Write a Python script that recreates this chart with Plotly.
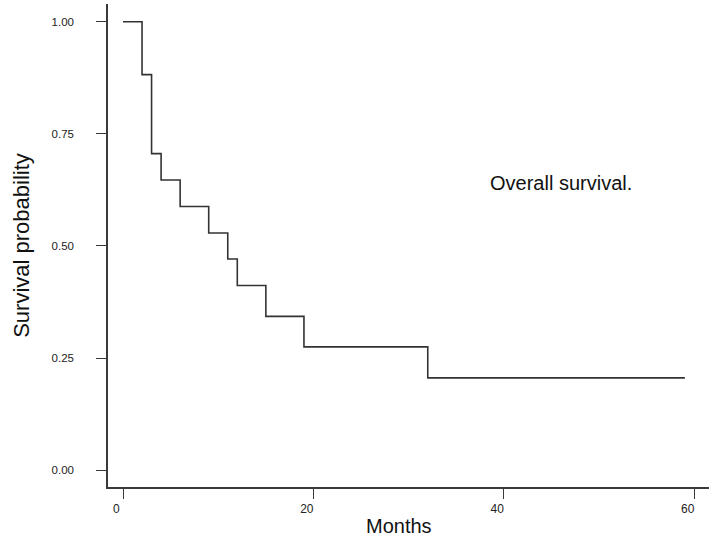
import plotly.graph_objects as go

# Kaplan-Meier estimate
months = [0, 2, 3, 4, 6, 9, 11, 12, 15, 19, 32, 59]
survival = [1.0, 0.882, 0.706, 0.647, 0.588, 0.529, 0.471, 0.412, 0.343, 0.275, 0.206, 0.206]

x_ticks = [0, 20, 40, 60]
x_tick_labels = ["0", "20", "40", "60"]
y_ticks = [0.0, 0.25, 0.5, 0.75, 1.0]
y_tick_labels = ["0.00", "0.25", "0.50", "0.75", "1.00"]

x_title = "Months"
y_title = "Survival probability"
note_text = "Overall survival."
note_x = 38.3
note_y = 0.64

FONT = "Liberation Sans, Arial, sans-serif"
AXIS_COLOR = "#3a3a3a"
NB = "\u00a0"

fig = go.Figure()
fig.add_trace(go.Scatter(
    x=months, y=survival, mode="lines", line_shape="hv",
    line=dict(color="#333333", width=1.6), showlegend=False, hoverinfo="skip",
))

fig.add_annotation(
    x=note_x, y=note_y, text=note_text, showarrow=False,
    xanchor="left", yanchor="middle",
    font=dict(family=FONT, size=20, color="#111111"),
)

# x-axis title (placed slightly left of centre as in the reference)
fig.add_annotation(
    x=28.95, xref="x", y=-0.081, yref="paper", text=x_title, showarrow=False,
    xanchor="center", yanchor="middle",
    font=dict(family=FONT, size=20, color="#111111"),
)

fig.update_layout(
    width=720, height=540,
    margin=dict(l=108, r=11, t=4, b=53),
    paper_bgcolor="white", plot_bgcolor="white",
    font=dict(family=FONT, color="#222222"),
    xaxis=dict(
        range=[-1.575, 61.53], tickvals=x_ticks,
        ticktext=[t + NB * 4 for t in x_tick_labels],
        showgrid=False, zeroline=False, showline=True, linecolor=AXIS_COLOR, linewidth=1.5,
        ticks="outside", ticklen=10, tickwidth=1.3, tickcolor=AXIS_COLOR,
        tickfont=dict(size=12, color="#222222"),
    ),
    yaxis=dict(
        range=[-0.0373, 1.0395], tickvals=y_ticks, ticktext=y_tick_labels,
        showgrid=False, zeroline=False, showline=True, linecolor=AXIS_COLOR, linewidth=1.5,
        ticks="outside", ticklen=10, tickwidth=1.3, tickcolor=AXIS_COLOR,
        tickfont=dict(size=11.5, color="#222222"),
        ticklabelstandoff=20,
        title=dict(text=y_title, font=dict(size=22, color="#111111"), standoff=16),
    ),
)

fig.write_html(
    "out.html",
    config={"displayModeBar": False},
    post_script="document.body.style.margin='0';document.body.style.overflow='hidden';",
)
